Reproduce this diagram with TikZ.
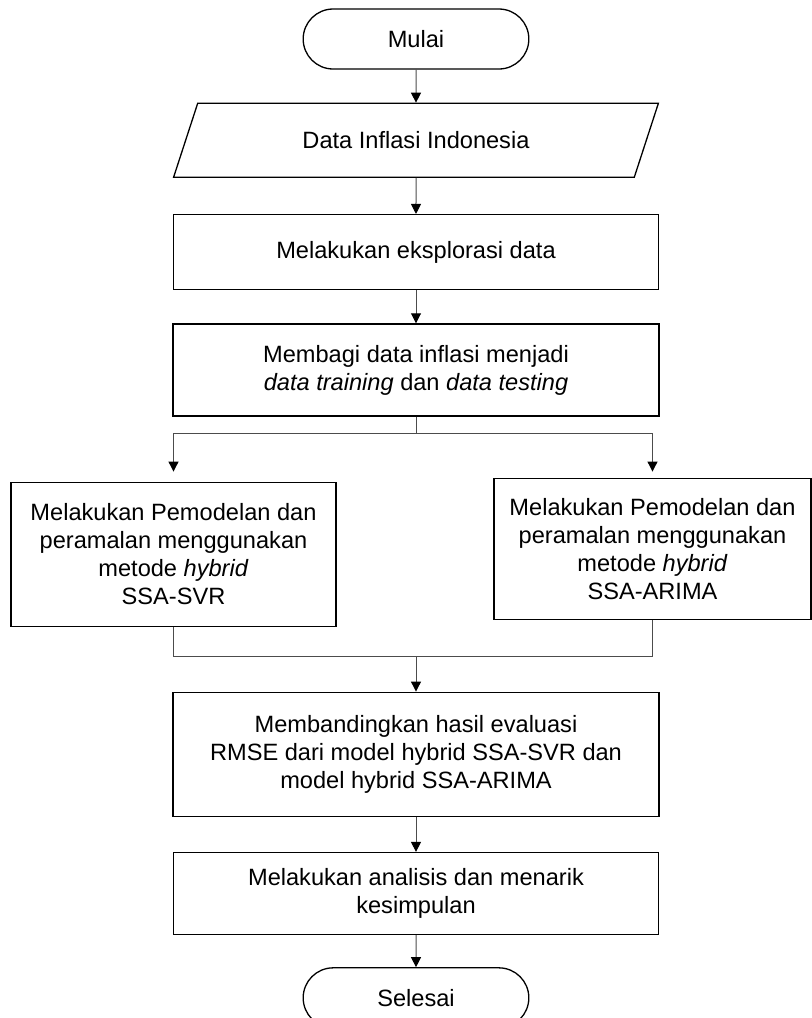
\documentclass[tikz,border=0pt]{standalone}
\usepackage{fontspec}
\setmainfont{Liberation Sans}
\usetikzlibrary{arrows.meta, positioning, shapes.misc, shapes.geometric}

\begin{document}
\begin{tikzpicture}[
          x=0.5pt, y=-0.5pt,
          font=\fontsize{11.8}{14}\selectfont,
          terminal/.style={draw, line width=0.65pt, rounded rectangle, minimum width=119.5pt, minimum height=30pt},
          io/.style={draw, line width=0.65pt, trapezium, trapezium left angle=66.6, trapezium right angle=113.4, trapezium stretches, minimum width=242.5pt, minimum height=37pt},
          box/.style={draw, line width=0.65pt, align=center, inner sep=2pt},
          line/.style={draw=black!70, line width=0.5pt},
          arr/.style={line, -{Triangle[length=5pt, width=5pt, color=black]}}
        ]
        \useasboundingbox (0,0) rectangle (812,1018);
        \node[terminal] (start) at (416,39) {Mulai};
        \node[io, below=16.5pt of start] (data) {Data Inflasi Indonesia};
        \node[box, minimum width=242.5pt, minimum height=37.5pt, below=18pt of data] (explore) {Melakukan eksplorasi data};
        \node[box, minimum width=243pt, minimum height=46pt, below=16.5pt of explore] (divide) {Membagi data inflasi menjadi\\\textit{data training} dan \textit{data testing}};
        \node[box, minimum width=162.5pt, minimum height=72pt, below=32.5pt of divide, xshift=-121.25pt] (svr) {Melakukan Pemodelan dan\\peramalan menggunakan\\metode \textit{hybrid}\\SSA-SVR};
        \node[box, minimum width=158.5pt, minimum height=70.5pt, below=30.5pt of divide, xshift=118.25pt] (arima) {Melakukan Pemodelan dan\\peramalan menggunakan\\metode \textit{hybrid}\\SSA-ARIMA};
        \node[box, minimum width=243pt, minimum height=62pt, below=137.5pt of divide] (compare) {Membandingkan hasil evaluasi\\RMSE dari model hybrid SSA-SVR dan\\model hybrid SSA-ARIMA};
        \node[box, minimum width=242.5pt, minimum height=41pt, below=17.5pt of compare] (conclude) {Melakukan analisis dan menarik\\kesimpulan};
        \node[terminal, below=16pt of conclude] (stop) {Selesai};
        \coordinate (split) at (416,433);
        \coordinate (merge) at (416,656);
        \draw[arr] (start) -- (data);
        \draw[arr] (data) -- (explore);
        \draw[arr] (explore) -- (divide);
        \draw[line] (divide) -- (split);
        \draw[arr] (split) -| ([yshift=5pt]svr.north);
        \draw[arr] (split) -| ([yshift=3pt]arima.north);
        \draw[line] (svr) |- (merge);
        \draw[line] (arima) |- (merge);
        \draw[arr] (merge) -- (compare);
        \draw[arr] (compare) -- (conclude);
        \draw[arr] (conclude) -- (stop);
      \end{tikzpicture}
\end{document}
